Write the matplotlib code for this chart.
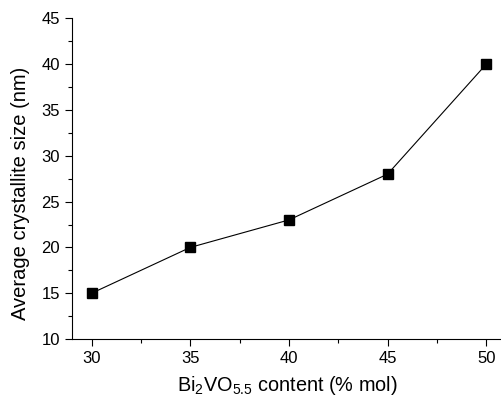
import matplotlib
matplotlib.use("Agg")
import matplotlib.pyplot as plt
from matplotlib.ticker import MultipleLocator

plt.rcParams["font.family"] = ["Liberation Sans", "DejaVu Sans"]
plt.rcParams["mathtext.fontset"] = "custom"
plt.rcParams["mathtext.rm"] = "Liberation Sans"
plt.rcParams["mathtext.it"] = "Liberation Sans:italic"

content = [30, 35, 40, 45, 50]          # Bi2VO5.5 content, % mol
size_nm = [15, 20, 23, 28, 40]          # average crystallite size, nm

fig = plt.figure(figsize=(5.02, 4.0), dpi=100)
ax = fig.add_axes([0.1434, 0.1525, 0.8566, 0.8015])
ax.plot(content, size_nm, color="black", lw=0.8, marker="s", ms=7,
        mfc="black", mec="black")

ax.set_xlim(29, 50.8)
ax.set_ylim(10, 45)
ax.xaxis.set_major_locator(MultipleLocator(5))
ax.xaxis.set_minor_locator(MultipleLocator(2.5))
ax.yaxis.set_major_locator(MultipleLocator(5))
ax.yaxis.set_minor_locator(MultipleLocator(2.5))
ax.tick_params(which="both", direction="out", width=0.8, labelsize=12)
ax.tick_params(which="major", length=5)
ax.tick_params(which="minor", length=3)
for s in ["top", "right"]:
    ax.spines[s].set_visible(False)
for s in ["left", "bottom"]:
    ax.spines[s].set_linewidth(0.8)

ax.set_xlabel(r"Bi$_\mathregular{2}$VO$_\mathregular{5.5}$ content (% mol)",
              fontsize=14.3, labelpad=6)
ax.set_ylabel("Average crystallite size (nm)", fontsize=14.5)
ax.yaxis.set_label_coords(-0.097, 0.455)

fig.savefig("out.png", dpi=100)
